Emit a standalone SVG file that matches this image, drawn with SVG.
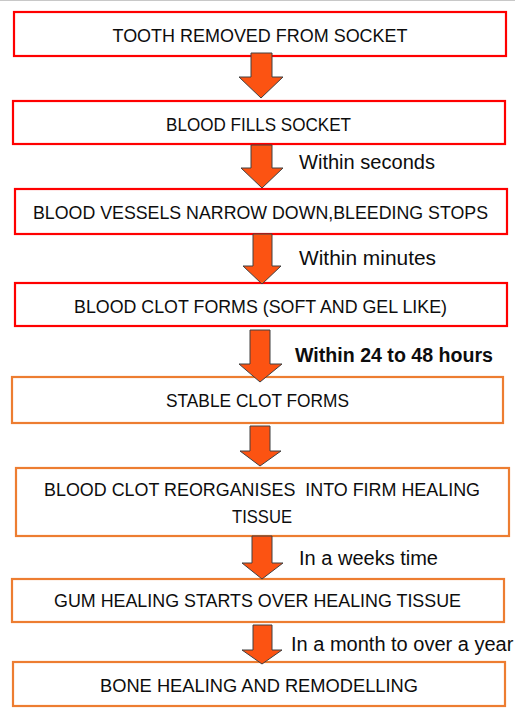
<svg xmlns="http://www.w3.org/2000/svg" width="515" height="721" viewBox="0 0 515 721">
<style>
.bg{fill:#ffffff}
.red{fill:#ffffff;stroke:#ff0000;stroke-width:2.2}
.org{fill:#ffffff;stroke:#ed7d31;stroke-width:2.2}
.t{font-family:"Liberation Sans",Arial,sans-serif;font-size:19px;fill:#0d0d0d;text-anchor:middle}
.lbl{font-family:"Liberation Sans",Arial,sans-serif;font-size:20px;fill:#0d0d0d}
.b{font-weight:bold;font-size:19.5px}
.arr{fill:#fc5312;stroke:#404040;stroke-width:1;stroke-linejoin:miter}
</style>
<rect class="bg" x="0" y="0" width="515" height="721"/>
<line x1="0" y1="0.5" x2="515" y2="0.5" stroke="#c8c8c8" stroke-width="1"/>

<g id="n1"><rect class="red" x="14" y="12" width="492" height="44"/><text class="t" x="260" y="42" textLength="295" lengthAdjust="spacingAndGlyphs">TOOTH REMOVED FROM SOCKET</text></g>
<g id="n2"><rect class="red" x="13" y="101" width="492" height="43"/><text class="t" x="258.5" y="131" textLength="185" lengthAdjust="spacingAndGlyphs">BLOOD FILLS SOCKET</text></g>
<g id="n3"><rect class="red" x="15" y="189" width="492" height="45"/><text class="t" x="260.5" y="219" style="font-size:18px" textLength="455" lengthAdjust="spacingAndGlyphs">BLOOD VESSELS NARROW DOWN,BLEEDING STOPS</text></g>
<g id="n4"><rect class="red" x="15" y="283" width="492" height="43"/><text class="t" x="260.5" y="313" textLength="373" lengthAdjust="spacingAndGlyphs">BLOOD CLOT FORMS (SOFT AND GEL LIKE)</text></g>
<g id="n5"><rect class="org" x="12" y="377" width="491" height="46"/><text class="t" x="257.5" y="407" textLength="183" lengthAdjust="spacingAndGlyphs">STABLE CLOT FORMS</text></g>
<g id="n6"><rect class="org" x="16" y="468" width="493" height="68"/><text class="t" x="262" y="496" textLength="436" lengthAdjust="spacingAndGlyphs">BLOOD CLOT REORGANISES&#160; INTO FIRM HEALING</text><text class="t" x="262" y="523" textLength="60" lengthAdjust="spacingAndGlyphs">TISSUE</text></g>
<g id="n7"><rect class="org" x="12" y="579" width="492" height="43"/><text class="t" x="257.5" y="607" textLength="407" lengthAdjust="spacingAndGlyphs">GUM HEALING STARTS OVER HEALING TISSUE</text></g>
<g id="n8"><rect class="org" x="13" y="662" width="492" height="44"/><text class="t" x="259" y="692" textLength="318" lengthAdjust="spacingAndGlyphs">BONE HEALING AND REMODELLING</text></g>

<g id="connectors">
<polygon class="arr" points="251,53 272,53 272,77 283,77 261,98 239,77 251,77"/>
<polygon class="arr" points="251,145 272,145 272,168 283,168 262,188 241,168 251,168"/>
<polygon class="arr" points="253,234 272,234 272,266 281,266 262,284 243,266 253,266"/>
<polygon class="arr" points="250,330 270,330 270,364 282,364 260,382 239,364 250,364"/>
<polygon class="arr" points="250,426 270,426 270,451 281,451 260,466 240,451 250,451"/>
<polygon class="arr" points="252,536 272,536 272,563 283,563 262,579 242,563 252,563"/>
<polygon class="arr" points="253,625 272,625 272,650 282,650 262,664 242,650 253,650"/>
</g>

<g id="labels">
<text class="lbl" x="299" y="169" textLength="136" lengthAdjust="spacingAndGlyphs">Within seconds</text>
<text class="lbl" x="299" y="265" textLength="137" lengthAdjust="spacingAndGlyphs">Within minutes</text>
<text class="lbl b" x="295" y="362" textLength="198" lengthAdjust="spacingAndGlyphs">Within 24 to 48 hours</text>
<text class="lbl" x="299" y="565" textLength="139" lengthAdjust="spacingAndGlyphs">In a weeks time</text>
<text class="lbl" x="291" y="651">In a month to over a year</text>
</g>
</svg>
